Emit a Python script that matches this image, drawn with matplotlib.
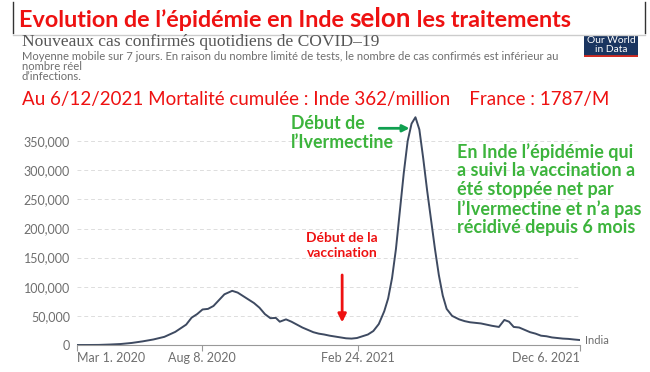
import numpy as np
import pandas as pd
import matplotlib.pyplot as plt

# 7-day average of new confirmed cases, India
dates = pd.to_datetime([
    "2020-03-01", "2020-03-15", "2020-03-29", "2020-04-12", "2020-04-26",
    "2020-05-10", "2020-05-24", "2020-06-07", "2020-06-21", "2020-07-05",
    "2020-07-19", "2020-07-26", "2020-08-02", "2020-08-09", "2020-08-16",
    "2020-08-23", "2020-08-30", "2020-09-06", "2020-09-16", "2020-09-23",
    "2020-09-30", "2020-10-07", "2020-10-14", "2020-10-21", "2020-10-28",
    "2020-11-04", "2020-11-11", "2020-11-16", "2020-11-24", "2020-12-01",
    "2020-12-08", "2020-12-15", "2020-12-22", "2020-12-29", "2021-01-05",
    "2021-01-12", "2021-01-19", "2021-01-26", "2021-02-02", "2021-02-09",
    "2021-02-16", "2021-02-23", "2021-03-02", "2021-03-09", "2021-03-16",
    "2021-03-23", "2021-03-30", "2021-04-04", "2021-04-09", "2021-04-14",
    "2021-04-19", "2021-04-24", "2021-04-29", "2021-05-04", "2021-05-09",
    "2021-05-14", "2021-05-19", "2021-05-24", "2021-05-29", "2021-06-03",
    "2021-06-08", "2021-06-13", "2021-06-18", "2021-06-25", "2021-07-04",
    "2021-07-11", "2021-07-18", "2021-07-25", "2021-08-01", "2021-08-08",
    "2021-08-15", "2021-08-24", "2021-08-31", "2021-09-06", "2021-09-12",
    "2021-09-19", "2021-09-26", "2021-10-03", "2021-10-10", "2021-10-17",
    "2021-10-24", "2021-10-31", "2021-11-07", "2021-11-14", "2021-11-21",
    "2021-11-28", "2021-12-06",
])
cases = [
    0, 15, 150, 800, 1700,
    3500, 6200, 9500, 14000, 22500,
    35000, 47000, 53000, 61000, 62000,
    67000, 77000, 87000, 93000, 90000,
    84000, 78000, 72000, 64000, 53000,
    46000, 46500, 40000, 44000, 40000,
    35000, 30000, 26000, 22000, 19500,
    18000, 16000, 14500, 13000, 11500,
    11000, 12000, 15000, 18000, 24000,
    36000, 58000, 80000, 115000, 165000,
    230000, 295000, 350000, 380000, 391000,
    370000, 320000, 265000, 215000, 165000,
    120000, 85000, 62000, 50000, 44000,
    41000, 39000, 38000, 37000, 35000,
    33000, 31000, 43000, 40000, 31000,
    30000, 26000, 22000, 19500, 16000,
    15000, 13000, 12000, 11000, 10500,
    9500, 8500,
]
tick_dates = ["2020-03-01", "2020-08-08", "2021-02-24", "2021-12-06"]
tick_labels = ["Mar 1. 2020", "Aug 8. 2020", "Feb 24. 2021", "Dec 6. 2021"]
yticks = [0, 50000, 100000, 150000, 200000, 250000, 300000, 350000]
subtitle = ["Moyenne mobile sur 7 jours. En raison du nombre limité de tests, le nombre de cas confirmés est inférieur au",
            "nombre réel", "d’infections."]
comment = ["En Inde l’épidémie qui", "a suivi la vaccination a", "été stoppée net par",
           "l’Ivermectine et n’a pas", "récidivé depuis 6 mois"]

gray = "#6e6e6e"
red = "#ee1111"
green = "#3cb43c"

fig = plt.figure(figsize=(6.5, 3.72), dpi=100)
ax = fig.add_axes([77/650, 1-345/372, 503/650, 233/372])

ax.plot(dates, cases, color="#3e4a61", lw=1.4)
ax.set_xlim(pd.Timestamp("2020-03-01"), pd.Timestamp("2021-12-06"))
ax.set_ylim(0, 400000)
ax.set_yticks(yticks)
ax.set_yticklabels([f"{v:,}" for v in yticks], fontsize=9, color=gray, family="Lato")
ax.set_xticks(pd.to_datetime(tick_dates))
ax.set_xticklabels(tick_labels, fontsize=9, color=gray, family="Lato")
xl = ax.get_xticklabels()
xl[0].set_ha("left")
xl[-1].set_ha("right")
ax.tick_params(axis="y", length=0, pad=5)
ax.tick_params(axis="x", length=4, color="#999999", pad=1)
ax.grid(axis="y", ls=(0, (4, 3)), color="#dddddd", lw=0.7)
for s in ["top", "right", "left"]:
    ax.spines[s].set_visible(False)
ax.spines["bottom"].set_color("#999999")
ax.text(pd.Timestamp("2021-12-12"), cases[-1], "India", fontsize=8, color=gray,
        family="Lato", va="center")

# annotations
ax.annotate("", xy=(pd.Timestamp("2021-05-05"), 372000),
            xytext=(pd.Timestamp("2021-03-20"), 372000),
            arrowprops=dict(arrowstyle="-|>", color="#10a050", lw=2, mutation_scale=10))
ax.annotate("", xy=(pd.Timestamp("2021-02-04"), 34000),
            xytext=(pd.Timestamp("2021-02-04"), 125000),
            arrowprops=dict(arrowstyle="-|>", color=red, lw=2, mutation_scale=12))
fig.text(291/650, 1-124/372, "Début de", color=green, fontsize=12.8,
         fontweight="bold", family="Lato", ha="left", va="center")
fig.text(291/650, 1-143/372, "l’Ivermectine", color=green, fontsize=12.8,
         fontweight="bold", family="Lato", ha="left", va="center")
fig.text(342/650, 1-238/372, "Début de la", color=red, fontsize=10,
         fontweight="bold", family="Lato", ha="center", va="center")
fig.text(342/650, 1-253/372, "vaccination", color=red, fontsize=10,
         fontweight="bold", family="Lato", ha="center", va="center")
for i, line in enumerate(comment):
    fig.text(457/650, 1-(152 + 19*i)/372, line, color=green, fontsize=13,
             fontweight="bold", family="Lato", ha="left", va="center")

# header title, "selon" a bit larger
renderer = fig.canvas.get_renderer()
x0 = 19
for part, size in [("Evolution de l’épidémie en Inde ", 16.8), ("selon", 18.7),
                   (" les traitements", 16.8)]:
    t = fig.text(x0/650, 1-27/372, part, color=red, fontsize=size, fontweight="bold",
                 family="Lato", va="baseline")
    x0 += t.get_window_extent(renderer).width
fig.add_artist(plt.Line2D([13/650, 13/650], [1-2/372, 1-33/372], color="#333333", lw=1))
fig.add_artist(plt.Line2D([645/650, 645/650], [1-2/372, 1-33/372], color="#333333", lw=1))
fig.add_artist(plt.Line2D([13/650, 645/650], [1-35/372, 1-35/372], color="#cccccc", lw=1))
fig.text(22/650, 1-42/372, "Nouveaux cas confirmés quotidiens de COVID–19", color="#555555",
         fontsize=12.6, family="Liberation Serif", va="center")
for i, line in enumerate(subtitle):
    fig.text(22/650, 1-(57 + 10*i)/372, line, color=gray, fontsize=8.1,
             family="Lato", va="center")
fig.text(22/650, 1-99/372, "Au 6/12/2021 Mortalité cumulée : Inde 362/million    France : 1787/M",
         color=red, fontsize=13.5, family="Lato", va="center")

# OWID logo
logo = fig.add_axes([584/650, 1-57/372, 54/650, 22/372])
logo.set_facecolor("#1a3560")
logo.set_xticks([])
logo.set_yticks([])
for s in logo.spines.values():
    s.set_visible(False)
logo.axhline(0.03, color="#d42b21", lw=2)
logo.text(0.5, 0.55, "Our World\nin Data", color="white", fontsize=7.4, family="Lato",
          ha="center", va="center", linespacing=0.95, transform=logo.transAxes)

fig.savefig("out.png", dpi=100)
